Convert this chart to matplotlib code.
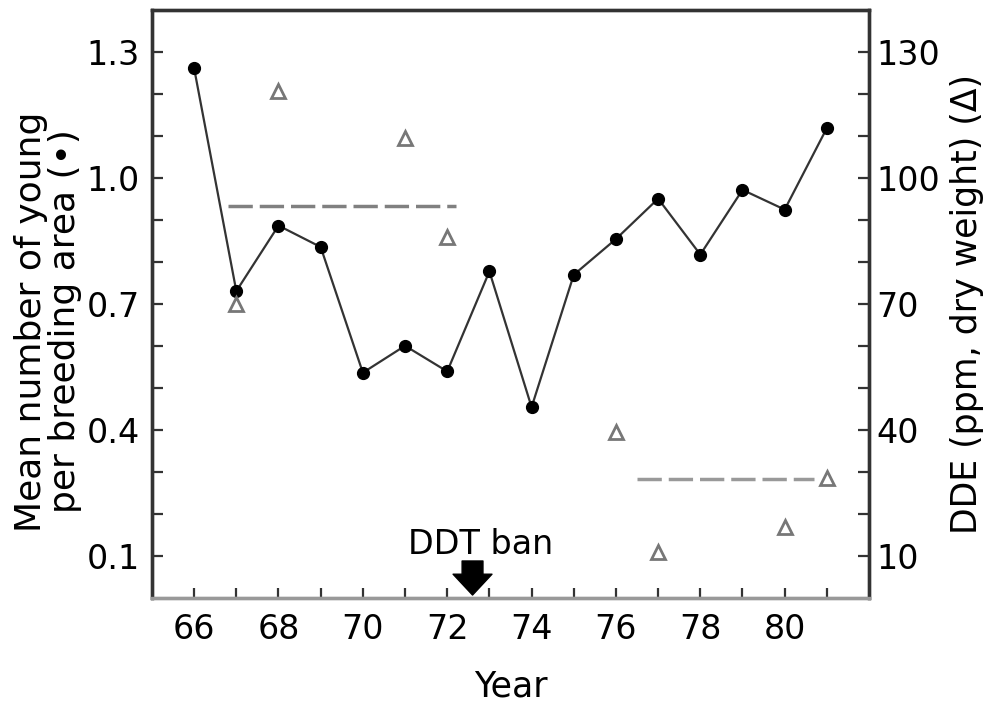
import matplotlib
matplotlib.use("Agg")
import matplotlib.pyplot as plt
from matplotlib.ticker import FixedLocator, NullFormatter

# --- data ---
years = [66, 67, 68, 69, 70, 71, 72, 73, 74, 75, 76, 77, 78, 79, 80, 81]
young = [1.26, 0.73, 0.886, 0.835, 0.536, 0.60, 0.539, 0.777,
         0.454, 0.769, 0.854, 0.95, 0.817, 0.971, 0.924, 1.118]

dde_years = [67, 68, 71, 72, 76, 77, 80, 81]
dde = [70, 120.5, 109.5, 86, 39.4, 11, 17, 28.6]

# mean DDE before / after the ban (dashed lines)
mean_before_x = [66.8, 72.2]
mean_before = 93.3
mean_after_x = [76.5, 80.7]
mean_after = 28.3

ban_year = 72.6

plt.rcParams["font.family"] = ["DejaVu Sans"]

fig = plt.figure(figsize=(9.88, 7.06), dpi=100)
ax = fig.add_axes([0.1538, 0.153, 0.7258, 0.8335])
ax2 = ax.twinx()

dark = "#333333"

ax.plot(years, young, color=dark, lw=1.6, marker="o", ms=8.5,
        mfc="black", mec="black", zorder=3)

ax2.plot(dde_years, dde, ls="none", marker="^", ms=10, mfc="white",
         mec="#777777", mew=2, zorder=2)
ax2.plot(mean_before_x, [mean_before] * 2, color="#808080", lw=2.5,
         ls=(0, (7, 2)))
ax2.plot(mean_after_x, [mean_after] * 2, color="#999999", lw=2.5,
         ls=(0, (7, 2)))

ax.set_xlim(65, 82)
ax.set_ylim(0, 1.4)
ax2.set_ylim(0, 140)

# left axis ticks
ax.yaxis.set_major_locator(FixedLocator([0.1, 0.4, 0.7, 1.0, 1.3]))
ax.yaxis.set_minor_locator(FixedLocator([0.2, 0.3, 0.5, 0.6, 0.8, 0.9, 1.1, 1.2]))
ax.set_yticklabels(["0.1", "0.4", "0.7", "1.0", "1.3"])
ax.yaxis.set_minor_formatter(NullFormatter())

# right axis ticks
ax2.yaxis.set_major_locator(FixedLocator([10, 40, 70, 100, 130]))
ax2.yaxis.set_minor_locator(FixedLocator([20, 30, 50, 60, 80, 90, 110, 120]))
ax2.set_yticklabels(["10", "40", "70", "100", "130"])

# x ticks
ax.xaxis.set_major_locator(FixedLocator(list(range(66, 81, 2))))
ax.xaxis.set_minor_locator(FixedLocator(list(range(67, 82, 2))))
ax.set_xticklabels([str(y) for y in range(66, 81, 2)])

ax.tick_params(axis="y", which="both", direction="in", length=8, width=1.6,
               color=dark, labelsize=24, pad=8.6, right=False)
ax.tick_params(axis="x", which="both", direction="in", length=7, width=1.6,
               color=dark, labelsize=24, pad=10.5, top=False)
ax2.tick_params(axis="y", which="both", direction="in", length=8, width=1.6,
                color=dark, labelsize=24, pad=5.5, left=False)

for a in (ax, ax2):
    for sp in ["left", "top", "right"]:
        a.spines[sp].set_linewidth(2.4)
        a.spines[sp].set_color(dark)
    a.spines["bottom"].set_linewidth(2.4)
    a.spines["bottom"].set_color("#999999")

ax.set_ylabel("Mean number of young\nper breeding area (\u2022)", fontsize=26,
              linespacing=1.0)
ax.yaxis.set_label_coords(-0.097, 0.47)
ax2.set_ylabel("DDE (ppm, dry weight) (\u0394)", fontsize=25)
ax2.yaxis.set_label_coords(1.113, 0.5)
ax.set_xlabel("Year", fontsize=25)
ax.xaxis.set_label_coords(0.5, -0.122)

# DDT ban marker
ax.text(72.79, 0.105, "DDT ban", fontsize=24, ha="center", va="baseline")
ax.annotate("", xy=(ban_year, 0.007), xytext=(ban_year, 0.088),
            arrowprops=dict(arrowstyle="simple,head_width=1.4,head_length=0.75,tail_width=0.75",
                            fc="black", ec="black", mutation_scale=20,
                            shrinkA=0, shrinkB=0))

fig.savefig("out.png", dpi=100)
